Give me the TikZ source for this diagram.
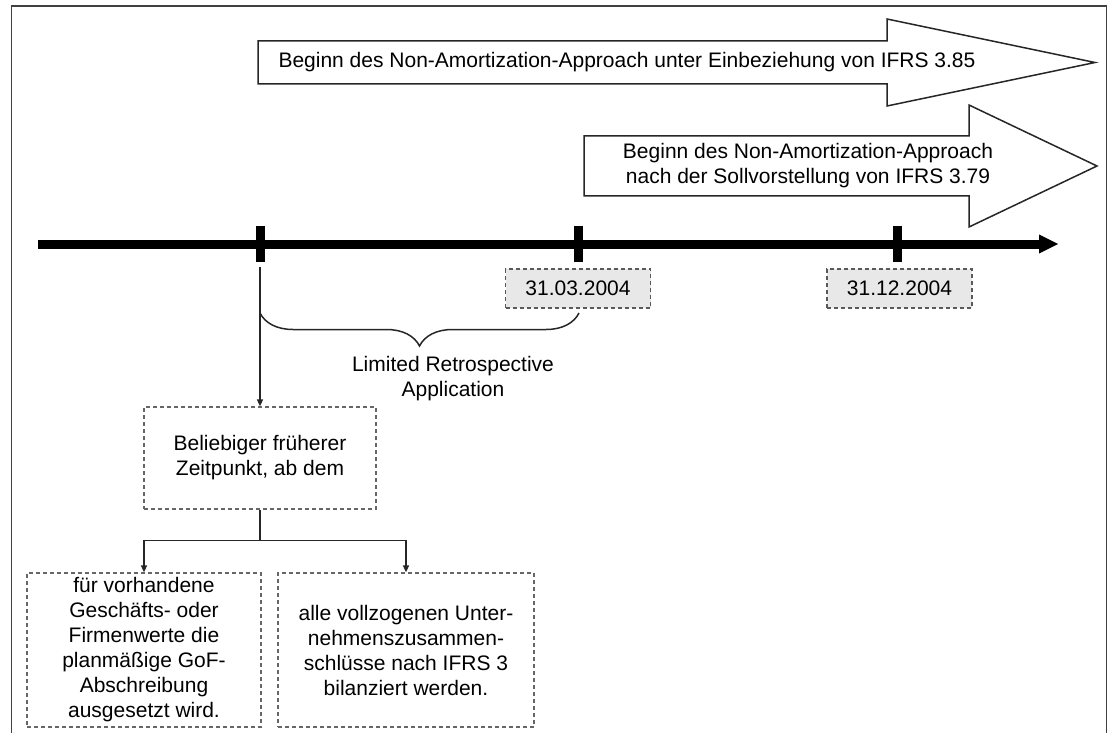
\documentclass[tikz,border=0pt]{standalone}
\usepackage{fontspec}
\setmainfont{Liberation Sans}
\usetikzlibrary{arrows.meta,decorations.pathreplacing,calc}
\tikzset{
  txt/.style={font=\fontsize{21}{25}\selectfont, align=center, inner sep=0pt},
  frameline/.style={draw=black!75, line width=1.5pt},
  bigarrow/.style={draw=black!85, line width=1.5pt, fill=white, line join=miter},
  datebox/.style={txt, draw=black!65, dash pattern=on 4pt off 3pt, fill=black!9, line width=1.2pt, minimum width=145pt, minimum height=39pt},
  textbox/.style={txt, draw=black!60, dash pattern=on 4pt off 3pt, line width=1.2pt},
  conn/.style={draw=black!85, line width=1.5pt},
  tip/.style={-{Triangle[length=7pt,width=6pt]}},
  tickmark/.style={fill=black, draw=none},
}
\begin{document}
\begin{tikzpicture}[x=1pt,y=-1pt]
\useasboundingbox (0,0) rectangle (1112,733);
% frame
\draw[frameline] (11.5,740) -- (11.5,6) -- (1106.5,6) -- (1106.5,740);
% big arrows
\draw[bigarrow] (258,41) -- (887,41) -- (887,19) -- (1095,62.5) -- (887,106) -- (887,84) -- (258,84) -- cycle;
\node[txt] (a1) at (627,62) {Beginn des Non-Amortization-Approach unter Einbeziehung von IFRS 3.85};
\draw[bigarrow] (584,136) -- (969,136) -- (969,105) -- (1097,166) -- (969,227) -- (969,196) -- (584,196) -- cycle;
\node[txt] (a2) at (808,166) {Beginn des Non-Amortization-Approach\\nach der Sollvorstellung von IFRS 3.79};
% timeline
\coordinate (tl0) at (38,244);
\coordinate (tl1) at (1041,244);
\draw[line width=9pt] (tl0) -- (tl1);
\fill (1039,234.5) -- (1058,244) -- (1039,253.5) -- cycle;
\fill[tickmark] (255.5,226) rectangle (264.5,262);
\fill[tickmark] (573.5,226) rectangle (582.5,262);
\fill[tickmark] (892.5,226) rectangle (901.5,262);
% dates
\node[datebox] (d1) at (578,288.5) {31.03.2004};
\node[datebox] (d2) at (899.5,288.5) {31.12.2004};
% brace
\coordinate (b0) at (260,313);
\coordinate (b1) at (579,313);
\draw[conn, decorate, decoration={brace, mirror, amplitude=33pt}] (b0) -- (b1);
\node[txt] (lra) at (453,378.5) {Limited Retrospective\\Application};
% boxes
\node[textbox, minimum width=232pt, minimum height=102pt] (bel) at (260,458) {Beliebiger früherer\\Zeitpunkt, ab dem};
\node[textbox, minimum width=234pt, minimum height=154pt] (lb) at (144,650) {für vorhandene\\Geschäfts- oder\\Firmenwerte die\\planmäßige GoF-\\Abschreibung\\ausgesetzt wird.};
\node[textbox, minimum width=256pt, minimum height=154pt] (rb) at (406,650) {alle vollzogenen Unter-\\nehmenszusammen-\\schlüsse nach IFRS 3\\bilanziert werden.};
% connectors
\coordinate (v1) at (260,267);
\draw[conn, tip] (v1) -- (bel.north);
\coordinate (split) at ($(bel.south)+(0,31)$);
\draw[conn] (bel.south) -- (split);
\draw[conn, tip] (split) -| (lb.north);
\draw[conn, tip] (split) -| (rb.north);
\end{tikzpicture}
\end{document}
